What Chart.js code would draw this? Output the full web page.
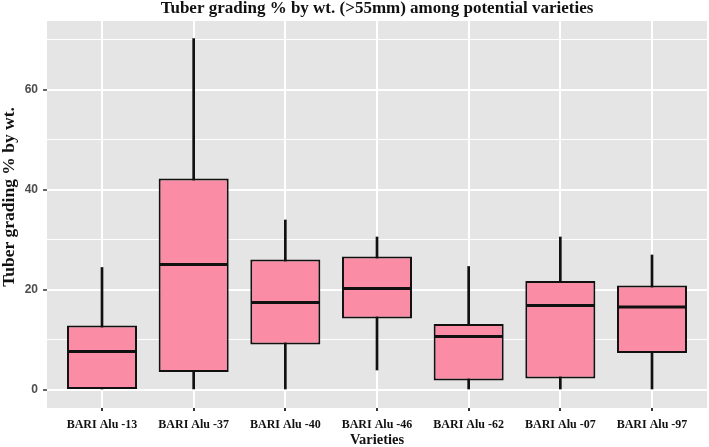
<!DOCTYPE html>
<html>
<head>
<meta charset="utf-8">
<script src="https://cdn.jsdelivr.net/npm/chart.js@4/dist/chart.umd.min.js"></script>
<style>
html,body{margin:0;padding:0;background:#fff;}
#wrap{width:709px;height:447px;}
</style>
</head>
<body>
<div id="wrap"><canvas id="c" width="709" height="447"></canvas></div>
<script>
const categories = ['BARI Alu -13','BARI Alu -37','BARI Alu -40','BARI Alu -46','BARI Alu -62','BARI Alu -07','BARI Alu -97'];
const whiskerLow  = [0, 0, 0, 4.0, 0, 0, 0];
const q1          = [0, 3.6, 9.1, 14.3, 1.9, 2.3, 7.4];
const median      = [7.7, 25.1, 17.5, 20.3, 10.7, 16.9, 16.6];
const q3          = [12.9, 42.3, 26.1, 26.7, 13.2, 21.8, 20.9];
const whiskerHigh = [24.5, 70.3, 34.0, 30.6, 24.7, 30.6, 27.0];
const yTickValues = [0, 10, 20, 30, 40, 50, 60, 70];
const yLabelValues = [0, 20, 40, 60];

const panelBg = {
  id: 'panelBg',
  beforeDraw(chart) {
    const {ctx, chartArea: a} = chart;
    ctx.save();
    ctx.fillStyle = '#E5E5E5';
    ctx.fillRect(a.left, a.top, a.right - a.left, a.bottom - a.top);
    ctx.restore();
  }
};

const serif = '"Liberation Serif", "Times New Roman", serif';

new Chart(document.getElementById('c'), {
  type: 'bar',
  data: {
    datasets: [
      {
        label: 'whisker',
        data: categories.map((c, i) => ({x: i + 1, y: [whiskerLow[i], whiskerHigh[i]]})),
        backgroundColor: '#111',
        borderWidth: 0,
        barThickness: 2,
        grouped: false,
        order: 3
      },
      {
        label: 'box',
        data: categories.map((c, i) => ({x: i + 1, y: [q1[i], q3[i]]})),
        backgroundColor: '#FB8CA6',
        borderColor: '#111',
        borderWidth: 2,
        borderSkipped: false,
        categoryPercentage: 1,
        barPercentage: 0.764,
        grouped: false,
        order: 2
      },
      {
        type: 'scatter',
        label: 'median',
        data: categories.map((c, i) => ({x: i + 1, y: median[i]})),
        pointStyle: 'line',
        pointRadius: 34,
        pointHoverRadius: 34,
        borderColor: '#111',
        borderWidth: 3,
        clip: false,
        order: 1
      }
    ]
  },
  options: {
    responsive: false,
    animation: false,
    events: [],
    layout: {autoPadding: false, padding: {left: 0, right: 2, top: 0, bottom: 0}},
    plugins: {
      legend: {display: false},
      tooltip: {enabled: false},
      title: {
        display: true,
        text: 'Tuber grading % by wt. (>55mm) among potential varieties',
        fullSize: false,
        color: '#111',
        font: {family: serif, size: 17, weight: 'bold', lineHeight: 0.88},
        padding: {top: 1.5, bottom: 4.5}
      }
    },
    scales: {
      x: {
        type: 'linear',
        offset: false,
        min: 0.4,
        max: 7.6,
        afterBuildTicks(scale) {
          scale.ticks = categories.map((c, i) => ({value: i + 1}));
        },
        afterFit(scale) {
          scale.height = 39;
          scale.paddingLeft = 0;
          scale.paddingRight = 0;
        },
        ticks: {
          autoSkip: false,
          maxRotation: 0,
          padding: 7,
          color: '#111',
          font: {family: serif, size: 12, weight: 'bold'},
          callback: (v) => categories[Math.round(v) - 1] || ''
        },
        grid: {
          offset: false,
          color: '#FFFFFF',
          lineWidth: 2,
          tickColor: '#333',
          tickWidth: 2,
          tickLength: 3
        },
        border: {display: false},
        title: {
          display: true,
          text: 'Varieties',
          color: '#111',
          font: {family: serif, size: 14.5, weight: 'bold', lineHeight: 1},
          padding: {top: 0, bottom: 0}
        }
      },
      y: {
        type: 'linear',
        min: -3.6,
        max: 73.8,
        afterBuildTicks(scale) {
          scale.ticks = yTickValues.map(v => ({value: v}));
        },
        afterFit(scale) {
          scale.width = 47;
          scale.paddingTop = 0;
          scale.paddingBottom = 0;
        },
        ticks: {
          padding: 5,
          color: '#4D4D4D',
          font: {family: '"Liberation Sans", Arial, sans-serif', size: 12, weight: 'bold'},
          callback: (v) => yLabelValues.includes(v) ? String(v) : ''
        },
        grid: {
          color: '#FFFFFF',
          lineWidth: (ctx) => (ctx.tick && yLabelValues.includes(ctx.tick.value)) ? 2 : 1,
          tickColor: (ctx) => (ctx.tick && yLabelValues.includes(ctx.tick.value)) ? '#333' : 'rgba(0,0,0,0)',
          tickWidth: 1.5,
          tickLength: 4
        },
        border: {display: false},
        title: {
          display: true,
          text: '        Tuber grading % by wt.',
          color: '#111',
          font: {family: serif, size: 17.5, weight: 'bold', lineHeight: 1},
          padding: {top: 1, bottom: 0}
        }
      }
    }
  },
  plugins: [panelBg]
});
</script>
</body>
</html>
